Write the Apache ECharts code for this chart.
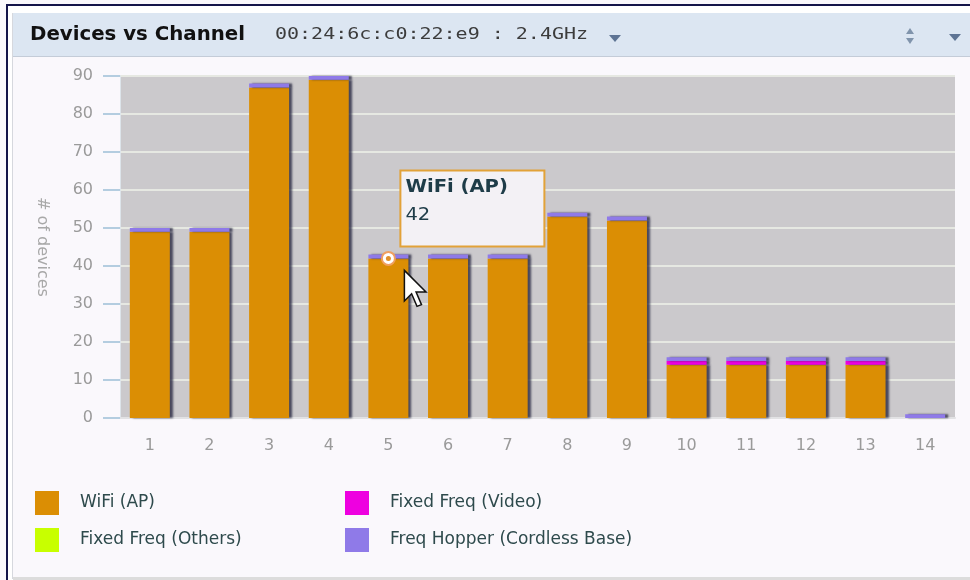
<!DOCTYPE html>
<html>
<head>
<meta charset="utf-8">
<script src="https://cdn.jsdelivr.net/npm/echarts@6/dist/echarts.min.js"></script>
<style>
  html, body { margin: 0; padding: 0; background: #ffffff; }
  #chart { width: 970px; height: 580px; }
</style>
</head>
<body>
<div id="chart"></div>
<script>
// Channel list for the 2.4GHz band
const channels = ['1', '2', '3', '4', '5', '6', '7', '8', '9', '10', '11', '12', '13', '14'];

// Device counts per channel, one array per device class (stacked)
const wifiAP      = [49, 49, 87, 89, 42, 42, 42, 53, 52, 14, 14, 14, 14, 0];
const fixedOthers = [0, 0, 0, 0, 0, 0, 0, 0, 0, 0, 0, 0, 0, 0];
const fixedVideo  = [0, 0, 0, 0, 0, 0, 0, 0, 0, 1, 1, 1, 1, 0];
const freqHopper  = [1, 1, 1, 1, 1, 1, 1, 1, 1, 1, 1, 1, 1, 1];

// Value axis range
const yMin = 0, yMax = 90, yStep = 10;

// Highlighted point shown in the hover box
const hoverSeries = 'WiFi (AP)';
const hoverIndex = 4;

const chart = echarts.init(document.getElementById('chart'), null, { renderer: 'canvas' });

const FONT = '"DejaVu Sans", Verdana, sans-serif';
const MONO = '"DejaVu Sans Mono", monospace';

function barSeries(name, data, color) {
  return {
    name: name,
    type: 'bar',
    stack: 'devices',
    data: data,
    barWidth: 40,
    itemStyle: {
      color: color,
      shadowColor: 'rgba(40, 40, 65, 0.8)',
      shadowBlur: 2,
      shadowOffsetX: 3,
      shadowOffsetY: 0
    },
    emphasis: { disabled: true }
  };
}

// Panel frame and header bar
const frame = [
  { id: 'navyTop', type: 'rect', shape: { x: 6, y: 4, width: 970, height: 2 }, style: { fill: '#14144a' }, silent: true },
  { id: 'navyLeft', type: 'rect', shape: { x: 6, y: 4, width: 2, height: 580 }, style: { fill: '#14144a' }, silent: true },
  { id: 'whiteTop', type: 'rect', shape: { x: 8, y: 6, width: 970, height: 7 }, style: { fill: '#ffffff' }, silent: true },
  { id: 'whiteLeft', type: 'rect', shape: { x: 8, y: 6, width: 5, height: 580 }, style: { fill: '#ffffff' }, silent: true },
  { id: 'edgeLeft', type: 'rect', shape: { x: 12, y: 13, width: 1, height: 566 }, style: { fill: '#d6d8de' }, silent: true },
  { id: 'header', type: 'rect', shape: { x: 13, y: 13, width: 970, height: 44 }, style: { fill: '#dce6f2' }, silent: true },
  { id: 'headerLine', type: 'rect', shape: { x: 13, y: 56, width: 970, height: 1 }, style: { fill: '#c4ccd8' }, silent: true },
  { id: 'bottomLine', type: 'rect', shape: { x: 13, y: 577, width: 970, height: 3 }, style: { fill: '#dcdcdc' }, silent: true },
  {
    id: 'title', type: 'text', x: 30, y: 35, scaleX: 1.04, silent: true,
    style: { text: 'Devices vs Channel', font: 'bold 19px ' + FONT, fill: '#111111', verticalAlign: 'middle', textAlign: 'left' }
  },
  {
    id: 'source', type: 'text', x: 275, y: 35, scaleX: 1.25, silent: true,
    style: { text: '00:24:6c:c0:22:e9 : 2.4GHz', font: '16px ' + MONO, fill: '#3c3c3c', verticalAlign: 'middle', textAlign: 'left' }
  },
  { id: 'srcDrop', type: 'polygon', shape: { points: [[609, 35], [621, 35], [615, 42]] }, style: { fill: '#5e7494' }, silent: true },
  { id: 'sortUp', type: 'polygon', shape: { points: [[906, 34], [914, 34], [910, 28]] }, style: { fill: '#8094ac' }, silent: true },
  { id: 'sortDown', type: 'polygon', shape: { points: [[906, 38], [914, 38], [910, 44]] }, style: { fill: '#8094ac' }, silent: true },
  { id: 'menuDrop', type: 'polygon', shape: { points: [[949, 34], [961, 34], [955, 41]] }, style: { fill: '#5e7494' }, silent: true }
];

const legendText = { fontFamily: FONT, fontSize: 17, color: '#2e4a4c', padding: [0, 0, 0, 16] };

const option = {
  backgroundColor: '#faf8fc',
  animation: false,
  color: ['#db8e04', '#c8ff00', '#ee00e0', '#8f7ae8'],
  grid: {
    left: 120, right: 15, top: 76, bottom: 162,
    show: true, backgroundColor: '#cbc9cc', borderWidth: 0
  },
  legend: [
    {
      data: ['WiFi (AP)', 'Fixed Freq (Others)'],
      orient: 'vertical', left: 35, top: 491, padding: 0,
      itemWidth: 24, itemHeight: 24, itemGap: 13, icon: 'rect',
      selectedMode: false,
      textStyle: legendText
    },
    {
      data: ['Fixed Freq (Video)', 'Freq Hopper (Cordless Base)'],
      orient: 'vertical', left: 345, top: 491, padding: 0,
      itemWidth: 24, itemHeight: 24, itemGap: 13, icon: 'rect',
      selectedMode: false,
      textStyle: legendText
    }
  ],
  xAxis: {
    type: 'category',
    data: channels,
    axisLine: { show: true, lineStyle: { color: '#e2e2e4', width: 2 } },
    axisTick: { show: false },
    axisLabel: { color: '#9a9a9a', fontFamily: FONT, fontSize: 16, margin: 20 },
    splitLine: { show: false }
  },
  yAxis: {
    type: 'value',
    min: yMin, max: yMax, interval: yStep,
    name: '# of devices',
    nameLocation: 'middle',
    nameRotate: -90,
    nameGap: 70,
    nameTextStyle: { color: '#a8a8a8', fontFamily: FONT, fontSize: 16 },
    axisLine: { show: true, lineStyle: { color: '#dde4ea', width: 1 } },
    axisTick: { show: true, length: 17, lineStyle: { color: '#b4cde0', width: 2 } },
    axisLabel: { color: '#9a9a9a', fontFamily: FONT, fontSize: 16, margin: 27 },
    splitLine: { show: true, lineStyle: { color: '#e6e8e2', width: 2 } }
  },
  series: [
    barSeries('WiFi (AP)', wifiAP, '#db8e04'),
    barSeries('Fixed Freq (Others)', fixedOthers, '#c8ff00'),
    barSeries('Fixed Freq (Video)', fixedVideo, '#ee00e0'),
    barSeries('Freq Hopper (Cordless Base)', freqHopper, '#8f7ae8')
  ],
  graphic: frame
};

chart.setOption(option);

// Hover box pinned to the highlighted bar top
const hoverValue = wifiAP[hoverIndex];
const p = chart.convertToPixel({ xAxisIndex: 0, yAxisIndex: 0 }, [hoverIndex, hoverValue]);
const arrow = [[0, 0], [0, 17], [4, 13], [7, 20], [9.5, 19], [6.5, 12], [12, 12]]
  .map(function (q) { return [p[0] + 16 + q[0] * 1.8, p[1] + 12 + q[1] * 1.8]; });

chart.setOption({
  graphic: [
    {
      id: 'tipBox', type: 'rect', z: 100,
      shape: { x: p[0] + 12, y: p[1] - 88, width: 144, height: 76 },
      style: { fill: '#f3f1f5', stroke: '#e2a238', lineWidth: 2 }
    },
    {
      id: 'tipName', type: 'text', z: 101, x: p[0] + 17, y: p[1] - 71, scaleX: 1.15,
      style: { text: hoverSeries, font: 'bold 17px ' + FONT, fill: '#1e3c48', verticalAlign: 'middle' }
    },
    {
      id: 'tipValue', type: 'text', z: 101, x: p[0] + 17, y: p[1] - 43, scaleX: 1.15,
      style: { text: String(hoverValue), font: '17px ' + FONT, fill: '#1e3c48', verticalAlign: 'middle' }
    },
    {
      id: 'dotOuter', type: 'circle', z: 100,
      shape: { cx: p[0], cy: p[1], r: 6.5 },
      style: { fill: '#ffffff', stroke: '#f0a060', lineWidth: 2 }
    },
    {
      id: 'dotInner', type: 'circle', z: 101,
      shape: { cx: p[0], cy: p[1], r: 2.5 },
      style: { fill: '#e0902a' }
    },
    {
      id: 'pointer', type: 'polygon', z: 102,
      shape: { points: arrow },
      style: { fill: '#ffffff', stroke: '#111111', lineWidth: 1.5 }
    }
  ]
});
</script>
</body>
</html>
